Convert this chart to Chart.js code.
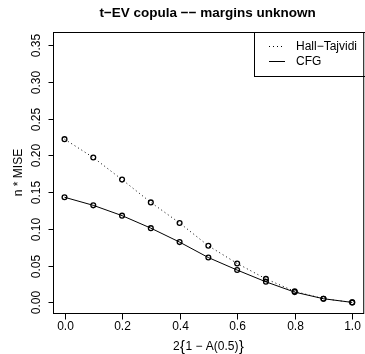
<!DOCTYPE html>
<html lang="en">
<head>
<meta charset="UTF-8">
<title>t-EV copula</title>
<script src="https://cdn.jsdelivr.net/npm/chart.js"></script>
<style>
  html, body { margin: 0; padding: 0; background: #fff; }
  #wrap { width: 365px; height: 354px; }
</style>
</head>
<body>
<div id="wrap"><canvas id="mise" width="365" height="354"></canvas></div>
<script>
// dependence level 2{1 - A(0.5)}
const dep = [0, 0.1, 0.2, 0.3, 0.4, 0.5, 0.6, 0.7, 0.8, 0.9, 1.0];
// n * MISE for the two estimators
const hallTajvidi = [0.222, 0.197, 0.167, 0.136, 0.108, 0.077, 0.053, 0.032, 0.015, 0.005, 0.000];
const cfg = [0.143, 0.132, 0.118, 0.101, 0.082, 0.061, 0.044, 0.028, 0.014, 0.005, 0.000];
const xTicks = [0, 0.2, 0.4, 0.6, 0.8, 1.0];
const yTicks = [0, 0.05, 0.10, 0.15, 0.20, 0.25, 0.30, 0.35];
const seriesNames = ['Hall\u2212Tajvidi', 'CFG'];

const FONT = '"Liberation Sans", Arial, sans-serif';

function pts(ys) {
  return dep.map((x, i) => ({ x: x, y: ys[i] }));
}

// box, ticks, labels and legend drawn R-style
const rAxes = {
  id: 'rAxes',
  afterDraw(chart) {
    const ctx = chart.ctx;
    const a = chart.chartArea;
    const xs = chart.scales.x, ys = chart.scales.y;
    const left = Math.round(a.left) + 0.5;
    const top = Math.round(a.top) + 0.5;
    const bottom = Math.round(a.bottom) + 0.5;
    const right = xs.getPixelForValue(1.04);
    ctx.save();
    ctx.strokeStyle = '#000';
    ctx.lineWidth = 1;
    ctx.strokeRect(left, top, right - left, bottom - top);

    ctx.fillStyle = '#000';
    ctx.font = '12px ' + FONT;

    // x axis
    ctx.textAlign = 'center';
    ctx.textBaseline = 'middle';
    xTicks.forEach(v => {
      const px = Math.round(xs.getPixelForValue(v)) + 0.5;
      ctx.beginPath();
      ctx.moveTo(px, bottom);
      ctx.lineTo(px, bottom + 6);
      ctx.stroke();
      ctx.fillText(v.toFixed(1), px, bottom + 13);
    });

    // y axis
    yTicks.forEach(v => {
      const py = Math.round(ys.getPixelForValue(v)) + 0.5;
      ctx.beginPath();
      ctx.moveTo(left - 5, py);
      ctx.lineTo(left, py);
      ctx.stroke();
      ctx.save();
      ctx.translate(left - 17, py);
      ctx.rotate(-Math.PI / 2);
      ctx.fillText(v.toFixed(2), 0, 0);
      ctx.restore();
    });

    // x axis title, braces set a little larger
    const cx = (left + right) / 2;
    const parts = [['2', 12], ['{', 14.5], ['1 \u2212 A(0.5)', 12], ['}', 14.5]];
    let total = 0;
    parts.forEach(p => { ctx.font = p[1] + 'px ' + FONT; total += ctx.measureText(p[0]).width + 0.5; });
    let tx = cx - total / 2;
    ctx.textAlign = 'left';
    parts.forEach(p => {
      ctx.font = p[1] + 'px ' + FONT;
      ctx.fillText(p[0], tx, 347);
      tx += ctx.measureText(p[0]).width + 0.5;
    });

    ctx.textAlign = 'center';
    ctx.font = '12px ' + FONT;
    ctx.save();
    ctx.translate(19, (a.top + a.bottom) / 2);
    ctx.rotate(-Math.PI / 2);
    ctx.fillText('n * MISE', 0, 0);
    ctx.restore();

    // main title
    ctx.font = 'bold 13.5px ' + FONT;
    ctx.fillText('t\u2212EV copula \u2212\u2212 margins unknown', cx - 1, 13);

    // legend
    const lx = 254.5, ly = top;
    ctx.strokeRect(lx, ly, 120, 44);
    ctx.font = '12px ' + FONT;
    ctx.textAlign = 'left';
    chart.data.datasets.forEach((ds, i) => {
      const yy = ly + 14 + i * 15;
      ctx.beginPath();
      ctx.setLineDash(ds.borderDash || []);
      ctx.moveTo(269, yy);
      ctx.lineTo(285, yy);
      ctx.stroke();
      ctx.setLineDash([]);
      ctx.fillText(seriesNames[i], 296, yy);
    });
    ctx.restore();
  }
};

new Chart(document.getElementById('mise'), {
  type: 'line',
  data: {
    datasets: [
      {
        label: seriesNames[0],
        data: pts(hallTajvidi),
        borderColor: '#000',
        borderWidth: 1,
        borderDash: [1, 3],
        pointRadius: 2.4,
        pointBorderWidth: 1.3,
        pointBorderColor: '#000',
        pointBackgroundColor: 'rgba(0,0,0,0)',
        tension: 0
      },
      {
        label: seriesNames[1],
        data: pts(cfg),
        borderColor: '#000',
        borderWidth: 1,
        pointRadius: 2.4,
        pointBorderWidth: 1.3,
        pointBorderColor: '#000',
        pointBackgroundColor: 'rgba(0,0,0,0)',
        tension: 0
      }
    ]
  },
  options: {
    responsive: false,
    animation: false,
    events: [],
    layout: { padding: { left: 53, top: 32, right: 0, bottom: 41 } },
    plugins: { legend: { display: false }, tooltip: { enabled: false } },
    scales: {
      // right edge of the plot area sits a few px inside the canvas (point overflow)
      x: { type: 'linear', min: -0.04, max: 1.026, display: false },
      y: { type: 'linear', min: -0.0144, max: 0.3677, display: false }
    }
  },
  plugins: [rAxes]
});
</script>
</body>
</html>
